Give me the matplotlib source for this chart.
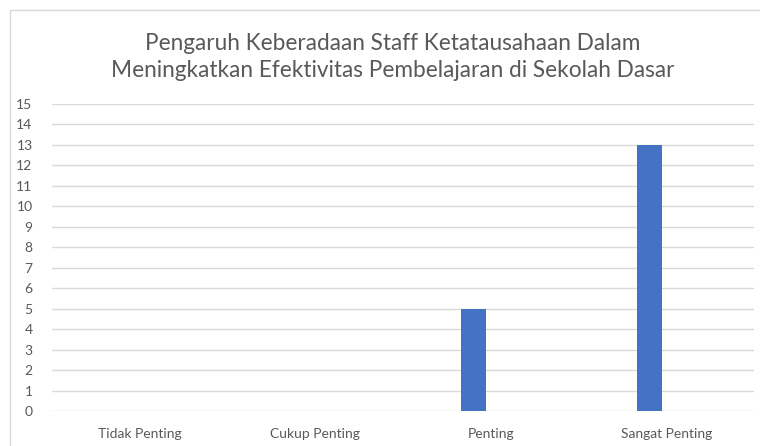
import matplotlib
matplotlib.use("Agg")
import matplotlib.pyplot as plt
from matplotlib.patches import Rectangle
import numpy as np

title = "Pengaruh Keberadaan Staff Ketatausahaan Dalam\nMeningkatkan Efektivitas Pembelajaran di Sekolah Dasar"
categories = ["Tidak Penting", "Cukup Penting", "Penting", "Sangat Penting"]
values = [0, 0, 5, 13]
yticks = list(range(0, 16))

text_color = "#595959"
bar_color = "#4472C4"
grid_color = "#D9D9D9"

plt.rcParams["font.family"] = ["Lato", "DejaVu Sans"]

fig = plt.figure(figsize=(7.6, 4.46), dpi=100)
fig.patch.set_facecolor("white")

# chart border like the Excel chart area
fig.add_artist(Rectangle((10 / 760, -0.05), 1.0, 1 - 10 / 446 + 0.05,
                         transform=fig.transFigure, fill=False,
                         edgecolor="#D9D9D9", linewidth=1.0))

ax = fig.add_axes([52 / 760, 1 - 411 / 446, (754 - 52) / 760, (411 - 104) / 446])
x = np.arange(len(categories))
ax.bar(x - 0.097, values, width=0.142, color=bar_color, zorder=3)

ax.set_xlim(-0.5, len(categories) - 0.5)
ax.set_ylim(0, 15)
ax.set_yticks(yticks)
ax.set_xticks(x)
ax.set_xticklabels(categories)
ax.tick_params(axis="both", length=0, colors=text_color, labelsize=10)
ax.tick_params(axis="y", pad=14)
ax.tick_params(axis="x", pad=12)
ax.grid(axis="y", color=grid_color, linewidth=1.0, zorder=0)
for s in ax.spines.values():
    s.set_visible(False)

fig.text(393 / 760, 1 - 57 / 446, title, ha="center", va="center",
         color=text_color, fontsize=16.3, linespacing=1.35)

fig.savefig("out.png", dpi=100)
